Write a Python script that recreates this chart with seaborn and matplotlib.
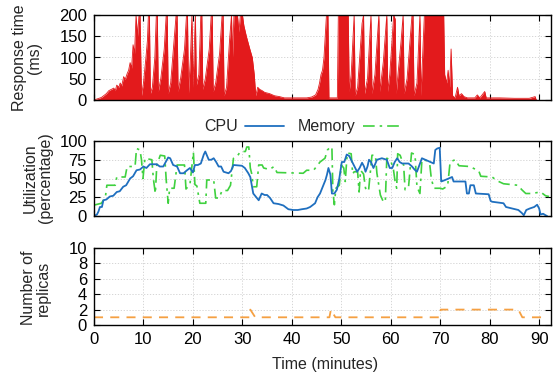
import numpy as np
import pandas as pd
import matplotlib
matplotlib.use("Agg")
import matplotlib.pyplot as plt
import seaborn as sns

# ---------------- data ----------------
rt_time = [0, 0.5, 1.5, 2.5, 3.0, 3.5, 4.0, 4.3, 4.6, 5.0, 5.3, 5.6, 6.0, 6.3, 6.7, 7.0, 7.3, 7.6,
           7.9, 8.2, 8.5, 8.8, 9.1, 9.3, 9.6, 10.0, 10.5, 10.8, 11.0, 11.2, 11.4, 11.8, 12.3, 12.6,
           12.8, 13.0, 13.5, 14.2, 14.6, 14.8, 15.0, 15.5, 16.2, 16.6, 16.8, 17.0, 17.5, 18.3, 18.7,
           18.9, 19.1, 19.5, 19.8, 20.0, 20.5, 20.7, 21.2, 21.6, 21.8, 22.0, 22.5, 23.3, 23.7, 23.9,
           24.1, 24.6, 25.4, 25.9, 26.1, 26.3, 26.8, 27.4, 27.8, 28.0, 28.3, 29.0, 29.3, 29.6, 30.0,
           30.3, 30.8, 31.5, 32.0, 32.4, 32.7, 33.1, 33.5, 34.0, 34.5, 35.5, 36.5, 37.5, 38.5, 40,
           42, 43, 44, 44.8, 45.3, 45.6, 45.9, 46.2, 46.5, 47.0, 47.3, 47.5, 49.2, 49.4, 51.4, 51.6,
           52.0, 52.6, 52.8, 53.3, 54.2, 54.5, 54.7, 55.3, 56.0, 56.2, 56.8, 57.6, 57.8, 58.5, 59.2,
           59.4, 59.8, 60.6, 60.9, 61.1, 62.1, 62.5, 62.7, 63.3, 64.3, 64.5, 64.7, 65.3, 65.9, 66.1,
           66.8, 70.7, 70.9, 71.3, 71.6, 71.9, 72.2, 72.5, 73.0, 73.5, 73.8, 74.3, 74.8, 75.5, 77,
           77.5, 78, 79, 79.3, 82, 85, 88, 89.2, 89.4, 89.5]
rt_value = [0, 2, 6, 15, 22, 25, 28, 22, 35, 30, 40, 33, 55, 48, 62, 70, 88, 75,
            130, 110, 200, 150, 200, 200, 10, 40, 100, 140, 200, 200, 15, 30, 100, 200,
            200, 20, 50, 120, 200, 200, 15, 40, 140, 200, 200, 20, 50, 120, 200,
            200, 15, 100, 200, 30, 200, 35, 60, 200, 200, 25, 50, 120, 200, 200,
            20, 40, 110, 200, 200, 10, 30, 140, 200, 100, 200, 200, 160, 200, 200,
            175, 150, 120, 100, 60, 10, 30, 25, 22, 18, 15, 10, 8, 5, 5,
            5, 5, 7, 12, 25, 40, 60, 70, 100, 200, 200, 5, 5, 200, 200, 20,
            60, 200, 10, 30, 180, 200, 15, 50, 200, 15, 60, 200, 20, 90, 200,
            20, 60, 200, 190, 15, 140, 200, 15, 50, 200, 200, 10, 40, 200, 10,
            200, 200, 60, 40, 70, 30, 120, 10, 5, 30, 10, 15, 8, 5, 5,
            12, 5, 20, 5, 5, 4, 4, 8, 0, 0]

cpu_time = [0, 0.6, 0.9, 1.2, 1.6, 1.9, 2.5, 3.2, 3.9, 4.6, 5.2, 5.9, 6.5, 7.3, 7.9, 8.6, 9.3, 10.0,
            10.6, 11.3, 12.7, 13.3, 14.0, 14.5, 15.0, 15.4, 16.0, 16.8, 17.4, 18.1, 18.8, 19.4, 20.0,
            20.4, 21.0, 21.6, 22.2, 22.5, 23.2, 23.7, 24.2, 24.7, 25.2, 25.7, 26.2, 27.2, 27.7, 28.2,
            29.9, 30.5, 31.2, 31.6, 32.2, 32.8, 33.3, 33.9, 34.5, 35.0, 35.6, 36.3, 37.3, 38.3, 39.3,
            40.3, 41.2, 42.0, 43.0, 43.7, 44.7, 45.2, 45.7, 46.3, 46.8, 47.1, 47.4, 47.8, 48.1, 48.6,
            49.1, 49.6, 50.1, 50.6, 51.1, 51.6, 52.2, 52.7, 53.2, 53.7, 54.2, 54.6, 54.9, 55.3, 55.6,
            56.0, 56.5, 56.9, 57.2, 57.7, 58.2, 58.7, 59.2, 59.8, 60.3, 60.8, 61.3, 61.8, 62.3, 63.6,
            64.3, 64.8, 65.3, 65.8, 66.3, 67.0, 68.0, 68.7, 69.0, 69.4, 69.9, 70.2, 71.0, 72.4, 72.7,
            75.1, 75.4, 75.8, 76.1, 76.8, 77.2, 79.8, 80.2, 80.5, 82.8, 83.3, 85.8, 86.5, 86.9, 87.4,
            88.1, 89.0, 89.6, 90.0, 90.3, 90.8, 91.3, 91.6]
cpu_value = [0, 2, 6, 12, 12, 21, 22, 26, 27, 32, 33, 39, 41, 50, 53, 61, 62, 66,
             64, 69, 69, 66, 66, 72, 78, 77, 68, 66, 57, 57, 61, 64, 58,
             68, 68, 70, 82, 86, 75, 75, 77, 72, 66, 66, 59, 57, 60, 68,
             67, 64, 57, 52, 30, 25, 21, 30, 28, 28, 24, 17, 16, 14, 9,
             8, 8, 9, 10, 12, 17, 25, 30, 40, 48, 55, 64, 55, 30, 30,
             35, 50, 72, 72, 82, 80, 72, 65, 59, 64, 71, 66, 59, 66, 75,
             72, 64, 70, 75, 76, 77, 76, 75, 64, 64, 72, 77, 72, 70, 70,
             66, 62, 59, 68, 77, 75, 72, 70, 88, 90, 91, 46, 48, 52, 46,
             46, 30, 30, 41, 41, 30, 29, 20, 19, 17, 12, 8, 4, 1, 8,
             10, 12, 15, 10, 2, 3, 1, 0]

mem_time = [0, 0.3, 1.5, 2.3, 2.6, 4.3, 4.6, 6.3, 6.7, 8.3, 8.6, 9.3, 9.6, 9.9, 10.3, 11.7, 12.0,
            12.4, 12.7, 13.4, 14.3, 14.6, 15.0, 15.3, 16.2, 16.8, 18.3, 18.6, 19.4, 20.1, 20.4, 20.8,
            21.4, 22.6, 22.8, 24.2, 24.6, 25.3, 25.9, 27.0, 27.6, 28.2, 29.0, 29.6, 30.6, 30.9, 31.3,
            31.6, 31.9, 32.2, 32.9, 33.3, 34.0, 34.3, 35.5, 36.4, 37.0, 42.3, 43.0, 44.4, 45.7, 46.7,
            47.2, 47.8, 48.1, 48.3, 48.6, 48.9, 49.6, 50.0, 50.5, 50.8, 51.2, 52.0, 52.3, 52.6, 53.3,
            53.6, 53.9, 54.5, 54.9, 55.5, 56.2, 56.9, 57.2, 57.9, 58.5, 58.9, 59.2, 59.9, 60.5, 60.9,
            61.2, 61.4, 61.9, 62.6, 62.9, 63.6, 64.2, 64.9, 65.3, 65.9, 66.3, 67.2, 67.9, 68.2, 68.7,
            70.0, 70.5, 71.5, 72.0, 73.0, 73.8, 76.0, 77.8, 78.2, 80.5, 81.5, 82.8, 85.7, 86.5, 87.3,
            88.5, 90.3, 91.3, 92.0]
mem_value = [15, 15, 17, 25, 41, 41, 52, 52, 66, 66, 90, 88, 75, 50, 77, 75, 50,
             30, 68, 81, 80, 48, 17, 37, 37, 68, 68, 36, 42, 85, 42, 40,
             17, 17, 48, 48, 24, 24, 34, 34, 41, 77, 80, 86, 86, 92, 92,
             64, 56, 39, 39, 68, 68, 64, 62, 66, 58, 57, 61, 61, 72, 77,
             88, 92, 92, 32, 15, 37, 41, 68, 64, 46, 84, 83, 56, 59, 59,
             32, 61, 56, 37, 33, 81, 81, 57, 28, 19, 19, 77, 75, 64, 45,
             37, 83, 81, 68, 35, 39, 84, 82, 39, 30, 75, 74, 68, 50, 37,
             37, 36, 40, 72, 75, 67, 66, 60, 53, 52, 47, 43, 41, 35, 30,
             30, 32, 27, 26]

rep_time = [0, 31.4, 31.6, 32.6, 47.6, 47.9, 48.8, 69.9, 70.1, 85.8, 86.6, 91.0]
rep_value = [1, 1, 2, 1, 1, 2, 1, 1, 2, 2, 1, 1]

x_ticks = [0, 10, 20, 30, 40, 50, 60, 70, 80, 90]
rt_ticks = [0, 50, 100, 150, 200]
util_ticks = [0, 25, 50, 75, 100]
rep_ticks = [0, 2, 4, 6, 8, 10]

# ---------------- style ----------------
sns.set_theme(style="ticks")
plt.rcParams['font.family'] = ['Liberation Sans', 'DejaVu Sans']
plt.rcParams['xtick.direction'] = 'in'
plt.rcParams['ytick.direction'] = 'in'

RED = "#e31a1c"
BLUE = "#1f6fbf"
GREEN = "#3fd13f"
ORANGE = "#f5a042"
FS_TICK = 12
FS = 11.5

fig = plt.figure(figsize=(5.53, 3.73), dpi=100)
W = 553.0
H = 373.0
left, right = 94, 551

def make_ax(top, bottom):
    return fig.add_axes([left / W, 1 - bottom / H, (right - left) / W, (bottom - top) / H])

ax1 = make_ax(15, 100)
ax2 = make_ax(141, 216)
ax3 = make_ax(248, 325)

rt_df = pd.DataFrame({"t": rt_time, "v": rt_value})
cpu_df = pd.DataFrame({"t": cpu_time, "v": cpu_value})
mem_df = pd.DataFrame({"t": mem_time, "v": mem_value})
rep_df = pd.DataFrame({"t": rep_time, "v": rep_value})

# panel 1
ax1.fill_between(rt_df["t"], 0, rt_df["v"], color=RED, linewidth=0, zorder=3)
sns.lineplot(data=rt_df, x="t", y="v", ax=ax1, color=RED, lw=0.6, zorder=3)
ax1.set_ylim(0, 200)
ax1.set_yticks(rt_ticks)

# panel 2
sns.lineplot(data=cpu_df, x="t", y="v", ax=ax2, color=BLUE, lw=1.3, label="CPU", zorder=4)
sns.lineplot(data=mem_df, x="t", y="v", ax=ax2, color=GREEN, lw=1.2, label="Memory", zorder=3)
ax2.lines[1].set_dashes([7, 3, 1.5, 3])
ax2.set_ylim(0, 100)
ax2.set_yticks(util_ticks)
leg = ax2.legend(loc="center", bbox_to_anchor=(0.457, 1.19), ncol=2, frameon=False,
                 markerfirst=False, fontsize=FS, handlelength=2.4, columnspacing=0.9,
                 handletextpad=0.45, borderaxespad=0)
leg.get_lines()[1].set_dashes([7, 3, 1.5, 3])

# panel 3
sns.lineplot(data=rep_df, x="t", y="v", ax=ax3, color=ORANGE, lw=1.3, zorder=3)
ax3.lines[0].set_dashes([5, 4])
ax3.set_ylim(0, 10)
ax3.set_yticks(rep_ticks)

for ax in (ax1, ax2, ax3):
    ax.set_xlim(0, 92.4)
    ax.set_xticks(x_ticks)
    ax.set_xlabel("")
    ax.set_ylabel("")
    ax.grid(True, color="#cfcfcf", linestyle=(0, (1.5, 2)), linewidth=0.6, zorder=0)
    ax.tick_params(axis="both", which="both", direction="in", top=True, right=True,
                   length=4, width=0.8, colors="black", labelsize=FS_TICK, pad=5)
    for s in ax.spines.values():
        s.set_visible(True)
        s.set_color("black")
        s.set_linewidth(1.0)
        s.set_zorder(5)
    ax.set_facecolor("white")

ax1.tick_params(labelbottom=False)
ax2.tick_params(labelbottom=False)

fig.text(27 / W, 1 - 58 / H, "Response time\n(ms)", rotation=90, ha="center", va="center",
         fontsize=FS, multialignment="center", linespacing=1.0)
fig.text(38 / W, 1 - 178 / H, "Utilization\n(percentage)", rotation=90, ha="center", va="center",
         fontsize=FS, multialignment="center", linespacing=1.0)
fig.text(36 / W, 1 - 288 / H, "Number of\nreplicas", rotation=90, ha="center", va="center",
         fontsize=FS, multialignment="center", linespacing=1.0)
fig.text(325 / W, 1 - 364 / H, "Time (minutes)", ha="center", va="center", fontsize=FS)

fig.savefig("out.png", dpi=100)
